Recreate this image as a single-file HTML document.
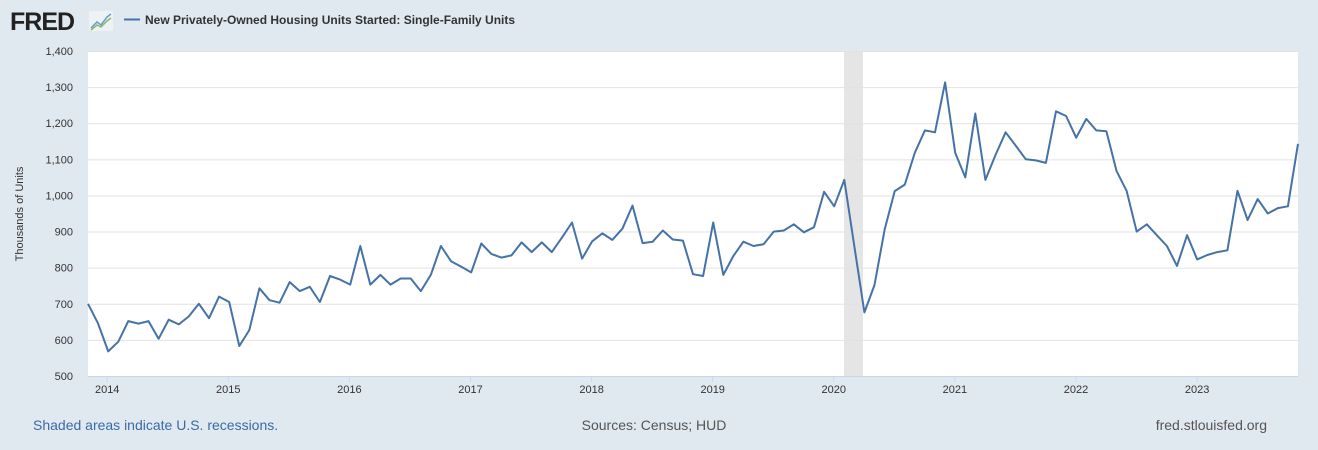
<!DOCTYPE html>
<html><head><meta charset="utf-8"><style>
body{margin:0;background:#e1e9f0;width:1318px;height:450px;overflow:hidden;font-family:"Liberation Sans",Arial,sans-serif}
</style></head><body>
<svg width="1318" height="450" xmlns="http://www.w3.org/2000/svg" style="position:absolute;left:0;top:0">
<rect width="1318" height="450" fill="#e1e9f0"/>
<text x="10" y="30" font-size="25" font-weight="bold" fill="#222" font-family="Liberation Sans,Arial,sans-serif" letter-spacing="-1">FRED</text>
<rect x="89" y="11" width="24" height="20" rx="2" fill="#eef2f5"/>
<polyline points="91,28 97,22 101,25 107,17 111,14" fill="none" stroke="#6a9ac9" stroke-width="1.5"/>
<polyline points="91,30 97,25 101,27 107,21 111,18" fill="none" stroke="#8ab86a" stroke-width="1.5"/>
<line x1="124" y1="19.5" x2="140" y2="19.5" stroke="#4572a7" stroke-width="2"/>
<text x="145" y="24" font-size="12" font-weight="bold" fill="#333">New Privately-Owned Housing Units Started: Single-Family Units</text>
<rect x="88" y="51" width="1210" height="325" fill="#fff"/>
<rect x="844" y="51" width="19" height="325" fill="#e5e5e5"/>
<g id="grid" stroke="#e2e2e2" stroke-width="1"></g>
<g id="yl" font-size="11" fill="#333" text-anchor="end"></g>
<g id="xl" font-size="11" fill="#333" text-anchor="middle"></g>
<line x1="88" y1="376.5" x2="1298" y2="376.5" stroke="#ccd6eb"/>
<text transform="translate(23,214) rotate(-90)" font-size="11" fill="#333" text-anchor="middle">Thousands of Units</text>
<path id="ln" fill="none" stroke="#4572a7" stroke-width="2" stroke-linejoin="round"/>
<text x="33" y="430" font-size="14" fill="#3a6aa5">Shaded areas indicate U.S. recessions.</text>
<text x="654" y="430" font-size="14" fill="#555" text-anchor="middle">Sources: Census; HUD</text>
<text x="1267" y="430" font-size="14" fill="#555" text-anchor="end">fred.stlouisfed.org</text>
</svg>
<script>
var ns="http://www.w3.org/2000/svg";
function Y(v){return 376-(v-500)*325/900;}
var g=document.getElementById('grid'),yl=document.getElementById('yl'),xl=document.getElementById('xl');
for(var v=500;v<=1400;v+=100){var y=Y(v);
 if(v>500){var l=document.createElementNS(ns,'line');l.setAttribute('x1',88);l.setAttribute('x2',1298);l.setAttribute('y1',y+0.5);l.setAttribute('y2',y+0.5);g.appendChild(l);}
 var t=document.createElementNS(ns,'text');t.setAttribute('x',73);t.setAttribute('y',y+4);t.textContent=v>=1000?('1,'+String(v-1000).padStart(3,'0')):v;yl.appendChild(t);}
for(var yr=2014;yr<=2023;yr++){var x=107.2+(yr-2014)*121.1;
 var l=document.createElementNS(ns,'line');l.setAttribute('x1',x);l.setAttribute('x2',x);l.setAttribute('y1',376);l.setAttribute('y2',382);l.setAttribute('stroke','#ccd6eb');g.appendChild(l);
 var t=document.createElementNS(ns,'text');t.setAttribute('x',x);t.setAttribute('y',393);t.textContent=yr;xl.appendChild(t);}
var d=[700,645,568,595,652,645,652,603,656,643,665,700,660,720,705,583,627,743,710,703,760,735,747,705,777,767,753,860,753,780,753,770,770,735,780,860,818,803,787,867,838,828,834,870,843,870,843,883,925,825,873,895,877,908,972,868,872,903,878,875,782,777,925,780,832,872,860,865,900,903,920,898,912,1010,970,1043,860,676,752,905,1012,1030,1118,1180,1175,1313,1118,1050,1227,1043,1112,1175,1138,1100,1097,1090,1233,1220,1160,1212,1180,1178,1068,1013,900,920,890,860,805,890,823,835,843,848,1013,932,990,950,965,970,1143];
var s='',n=d.length,dx=1210/(n-1);
for(var i=0;i<n;i++){s+=(i?'L':'M')+(88+i*dx).toFixed(1)+','+Y(d[i]).toFixed(1);}
document.getElementById('ln').setAttribute('d',s);
</script>
</body></html>
